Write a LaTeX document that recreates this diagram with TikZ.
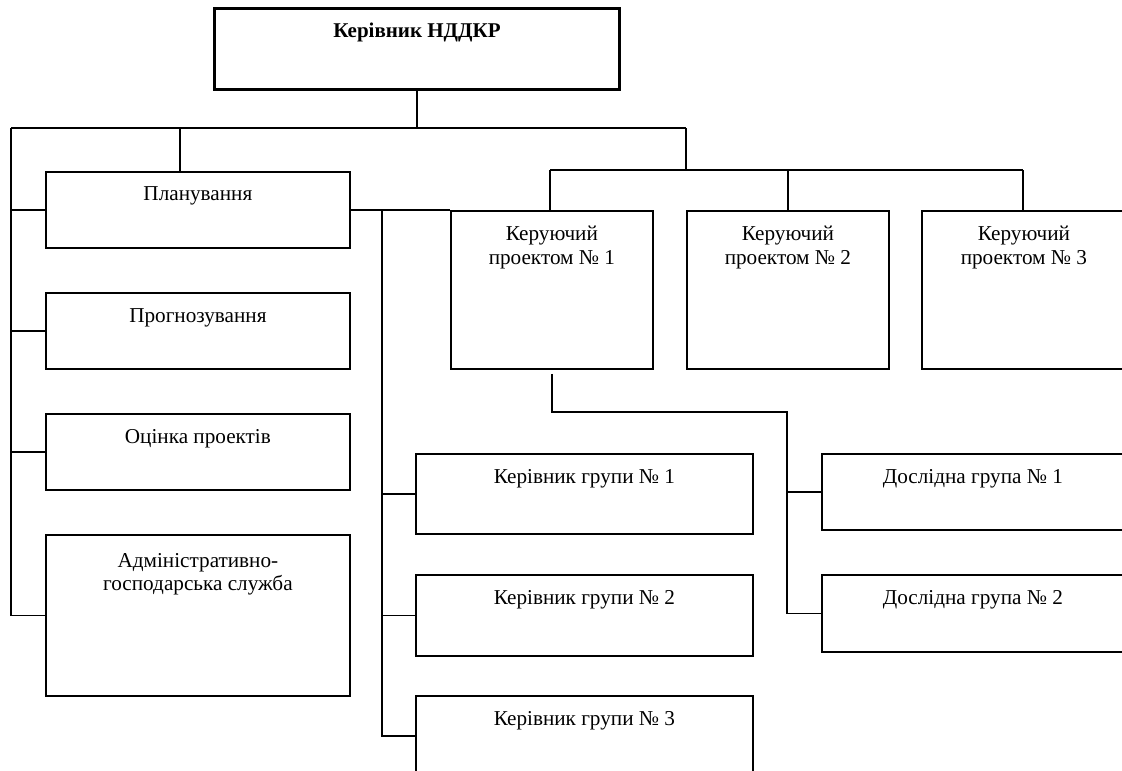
\documentclass[tikz,border=0pt]{standalone}
\usepackage{fontspec}
\setmainfont{Liberation Serif}
\begin{document}
\begin{tikzpicture}[x=1pt,y=-1pt,
  box/.style={draw, line width=1.8pt, rectangle, inner sep=0pt, anchor=north west},
  topbox/.style={box, line width=3pt},
  lbl/.style={anchor=base, inner sep=0pt, font=\fontsize{21.2}{23.5}\selectfont, align=center},
  tlbl/.style={anchor=base, inner sep=0pt, font=\fontsize{21}{24}\selectfont\bfseries},
  conn/.style={line width=1.8pt}]
\useasboundingbox (0,0) rectangle (1122,771);
\clip (0,0) rectangle (1122,771);
% boxes
\node[topbox, minimum width=405pt, minimum height=81pt] (top) at (213,7) {};
\node[box, minimum width=304pt, minimum height=76pt] (plan) at (45,171) {};
\node[box, minimum width=304pt, minimum height=76pt] (prog) at (45,292) {};
\node[box, minimum width=304pt, minimum height=76pt] (ocin) at (45,413) {};
\node[box, minimum width=304pt, minimum height=161pt] (adm) at (45,534) {};
\node[box, minimum width=202pt, minimum height=158pt] (k1) at (450,210) {};
\node[box, minimum width=202pt, minimum height=158pt] (k2) at (686,210) {};
\node[box, minimum width=204pt, minimum height=158pt] (k3) at (921,210) {};
\node[box, minimum width=337pt, minimum height=80pt] (g1) at (415,453) {};
\node[box, minimum width=337pt, minimum height=81pt] (g2) at (415,574) {};
\node[box, minimum width=337pt, minimum height=80pt] (g3) at (415,695) {};
\node[box, minimum width=302pt, minimum height=76pt] (d1) at (821,453) {};
\node[box, minimum width=302pt, minimum height=77pt] (d2) at (821,574) {};
% texts
\node[tlbl] (ttop) at ([yshift=-30pt]top.north) {Керівник НДДКР};
\node[lbl] (tplan) at ([yshift=-29pt]plan.north) {Планування};
\node[lbl] (tprog) at ([yshift=-30pt]prog.north) {Прогнозування};
\node[lbl] (tocin) at ([yshift=-30pt]ocin.north) {Оцінка проектів};
\node[lbl, anchor=north] (tadm) at ([yshift=-19pt]adm.north) {Адміністративно-\\господарська служба};
\node[lbl, anchor=north] (tk1) at ([yshift=-16pt]k1.north) {Керуючий\\проектом № 1};
\node[lbl, anchor=north] (tk2) at ([yshift=-16pt]k2.north) {Керуючий\\проектом № 2};
\node[lbl, anchor=north] (tk3) at ([yshift=-16pt]k3.north) {Керуючий\\проектом № 3};
\node[lbl] (tg1) at ([yshift=-30pt]g1.north) {Керівник групи № 1};
\node[lbl] (tg2) at ([yshift=-30pt]g2.north) {Керівник групи № 2};
\node[lbl] (tg3) at ([yshift=-30pt]g3.north) {Керівник групи № 3};
\node[lbl] (td1) at ([yshift=-30pt]d1.north) {Дослідна група № 1};
\node[lbl] (td2) at ([yshift=-30pt]d2.north) {Дослідна група № 2};
% connectors
\coordinate (busL) at (11,128);
\coordinate (busR) at (686,128);
\coordinate (kbusL) at (550,170);
\coordinate (kbusR) at (1023,170);
\coordinate (sp2) at (382,0);
\coordinate (kc) at (787,412);
\draw[conn] (top.south) -- (top.south |- busL);
\draw[conn] (busL) -- (busR);
\draw[conn] (180,128) -- (plan.north -| 180,0);
\draw[conn] (busR) -- (busR |- kbusL);
\draw[conn] (kbusL) -- (kbusR);
\draw[conn] (kbusL) -- (kbusL |- k1.north);
\draw[conn] (k2.north |- kbusL) -- (k2.north);
\draw[conn] (kbusR) -- (kbusR |- k3.north);
\draw[conn] (busL) |- (adm.west);
\draw[conn] (busL |- plan.west) -- (plan.west);
\draw[conn] (busL |- prog.west) -- (prog.west);
\draw[conn] (busL |- ocin.west) -- (ocin.west);
\draw[conn] (plan.east) -- (plan.east -| k1.west);
\draw[conn] (plan.east -| sp2) |- (g3.west);
\draw[conn] (sp2 |- g1.west) -- (g1.west);
\draw[conn] (sp2 |- g2.west) -- (g2.west);
\draw[conn] ([yshift=-4pt]k1.south) |- (kc) |- (d2.west);
\draw[conn] (kc |- d1.west) -- (d1.west);
\end{tikzpicture}
\end{document}
